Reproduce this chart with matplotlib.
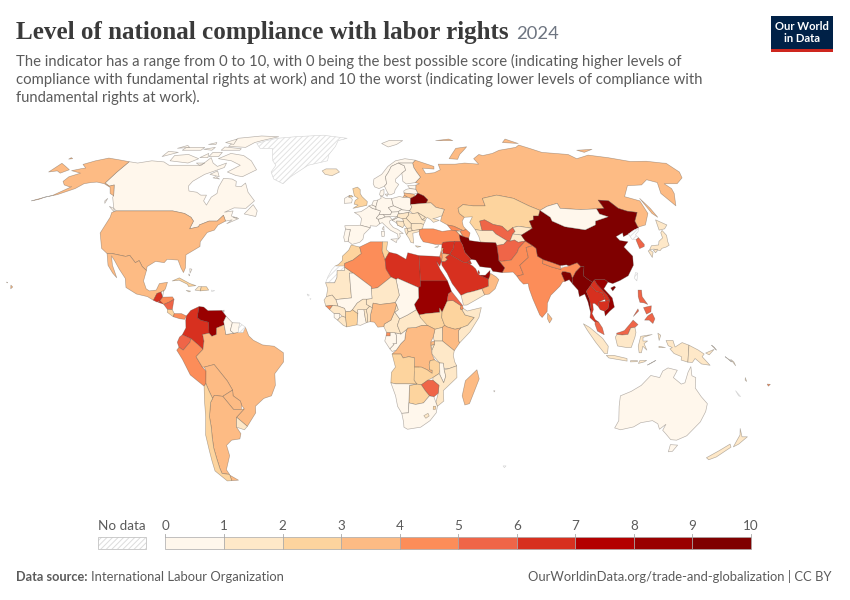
import numpy as np
import matplotlib
matplotlib.use('Agg')
import matplotlib.pyplot as plt
from matplotlib.patches import Polygon, Rectangle
from matplotlib.colors import BoundaryNorm, ListedColormap

'''
Level of national compliance with labor rights, 2024. Robinson world map drawn from rough lon/lat outlines
'''

bin_edges = [0, 1, 2, 3, 4, 5, 6, 7, 8, 9, 10]
bin_colors = ['#fff7ec', '#fee8c8', '#fdd49e', '#fdbb84', '#fc8d59',
              '#ef6548', '#d7301f', '#b30000', '#990000', '#7f0000']

# Robinson table, every 5 degrees
rob_lat = np.arange(0, 95, 5)
rob_plen = [1, .9986, .9954, .99, .9822, .973, .96, .9427, .9216, .8962, .8679, .835, .7986, .7597, .7186, .6732, .6213, .5722, .5322]
rob_pdfe = [0, .062, .124, .186, .248, .31, .372, .434, .4958, .5571, .6176, .6769, .7346, .7903, .8435, .8936, .9394, .9761, 1]

# scores, None = no data
scores = {
    'Canada': 0.5, 'USA': 3.5, 'Mexico': 3.5, 'Guatemala': 6.5, 'Belize': 0.5, 'El Salvador': 6.5, 'Honduras': 4.5,
    'Nicaragua': 5.5, 'Costa Rica': 2.5, 'Panama': 4.5, 'Cuba': 2.5, 'Haiti': 1.5, 'Dominican Rep': 2.5, 'Jamaica': 1.5,
    'Bahamas': 0.5, 'Puerto Rico': None, 'Trinidad': 0.5,
    'Colombia': 6.5, 'Venezuela': 8.5, 'Ecuador': 5.5, 'Peru': 4.5, 'Brazil': 3.5, 'Bolivia': 3.5, 'Paraguay': 3.5,
    'Argentina': 3.5, 'Chile': 2.5, 'Uruguay': 1.5, 'Guyana': 0.5, 'Suriname': 0.5, 'French Guiana': None,
    'Greenland': None, 'Iceland': 1.5, 'UK': 2.5, 'Ireland': 0.5, 'France': 0.5, 'Spain': 0.5, 'Portugal': 0.5,
    'Belgium': 0.5, 'Netherlands': 0.5, 'Germany': 0.5, 'Switzerland': 0.5, 'Austria': 0.5, 'Italy': 0.5, 'Denmark': 0.5,
    'Norway': 0.5, 'Sweden': 0.5, 'Finland': 0.5, 'Estonia': 0.5, 'Latvia': 0.5, 'Lithuania': 3.5, 'Poland': 0.5,
    'Belarus': 9.5, 'Ukraine': 1.5, 'Moldova': 1.5, 'Czechia': 0.5, 'Slovakia': 0.5, 'Hungary': 1.5, 'Romania': 1.5,
    'Bulgaria': 1.5, 'Serbia': 1.5, 'Croatia': 0.5, 'Bosnia': 1.5, 'Slovenia': 0.5, 'Albania': 1.5, 'N Macedonia': 1.5,
    'Greece': 1.5, 'Cyprus': 0.5, 'Russia': 3.5, 'Georgia': 4.5, 'Armenia': 1.5, 'Azerbaijan': 4.5, 'Turkey': 4.5,
    'Kazakhstan': 2.5, 'Uzbekistan': 5.5, 'Turkmenistan': 1.5, 'Kyrgyzstan': 1.5, 'Tajikistan': 1.5, 'Afghanistan': 5.5,
    'Pakistan': 4.5, 'Iran': 9.5, 'Iraq': 6.5, 'Syria': 6.5, 'Lebanon': 3.5, 'Israel': 4.5, 'Jordan': 3.5, 'Saudi Arabia': 6.5,
    'Yemen': 1.5, 'Oman': 3.5, 'UAE': 8.5, 'Kuwait': 6.5, 'Qatar': 6.5, 'India': 4.5, 'Nepal': 4.5, 'Bhutan': None,
    'Bangladesh': 9.5, 'Sri Lanka': 3.5, 'China': 9.5, 'Mongolia': 0.5, 'North Korea': None, 'South Korea': 5.5, 'Japan': 1.5,
    'Taiwan': None, 'Myanmar': 9.5, 'Thailand': 6.5, 'Laos': 6.5, 'Vietnam': 8.5, 'Cambodia': 6.5, 'Malaysia': 5.5,
    'Indonesia': 1.5, 'PNG': 1.5, 'Philippines': 5.5, 'Australia': 0.5, 'New Zealand': 1.5, 'Fiji': 4.5, 'Solomon': 1.5,
    'Vanuatu': 1.5, 'New Caledonia': None, 'Kerguelen': None, 'Morocco': 2.5, 'W Sahara': None, 'Mauritania': 1.5, 'Algeria': 4.5,
    'Tunisia': 2.5, 'Libya': 6.5,
    'Egypt': 6.5, 'Sudan': 8.5, 'South Sudan': 2.5, 'Ethiopia': 2.5, 'Eritrea': 5.5, 'Djibouti': 4.5, 'Somalia': 1.5,
    'Kenya': 3.5, 'Uganda': 1.5, 'Tanzania': 1.5, 'Rwanda': 3.5, 'Burundi': 1.5, 'DRC': 3.5, 'Congo': 0.5, 'Gabon': 0.5,
    'Eq Guinea': 4.5, 'Cameroon': 1.5, 'CAR': 1.5, 'Chad': 0.5, 'Niger': 1.5, 'Nigeria': 3.5, 'Mali': 0.5, 'Senegal': 1.5,
    'Guinea-Bissau': 4.5, 'Guinea': 1.5, 'Sierra Leone': 0.5, 'Liberia': 1.5, 'Ivory Coast': 2.5, 'Ghana': 0.5, 'Togo': 1.5,
    'Benin': 1.5, 'Burkina Faso': 1.5, 'Angola': 2.5, 'Zambia': 2.5, 'Malawi': 0.5, 'Mozambique': 1.5, 'Zimbabwe': 5.5,
    'Botswana': 2.5, 'Namibia': 0.5, 'South Africa': 0.5, 'Lesotho': 1.5, 'Eswatini': 2.5, 'Madagascar': 3.5,
    'Cape Verde': None, 'Mauritius': 0.5,
}

# rough outlines as (lon, lat)
outlines = {
    'Russia': [
        [(28,60.5),(31.5,62.8),(30,65),(29,67),(29,69),(31,70.3),(41,67.5),(40.5,66.3),(34,66.7),(35,64.3),(40,64.7),(44,66),(44,68.5),(54,68.5),(60,69),(68,68.5),(67,71),(72,73),(74,72.5),(81,73.5),(87,75),(100,76.5),(104,77.7),(113,74),(128,73),(130,71),(140,72.7),(150,71.5),(160,69.7),(170,69.8),(178,69),(180,68.9),(180,65),(177,62.5),(170,60),(163,60),(164,58),(162.5,56),(157,51),(155.5,56),(160,60.5),(156,61.7),(150,59.5),(142,59.2),(135,54.7),(141,53),(140,48),(135,43.5),(131,42.7),(130.7,42.3),(131,45),(135,48.4),(130.5,48.9),(127,50),(125,53),(120,53.3),(120,50),(116,49.8),(108,49.5),(98,50),(98,52),(92,50.8),(87.5,49.2),(83,51),(77,54),(71,55),(69,55.3),(61,54),(61,51),(55,51),(50,51.5),(47,50),(47,48),(49,46.5),(47.5,45),(47.5,43),(48.5,41.8),(47,41.3),(43,43),(40,43.5),(37,45),(38.2,47.1),(40,49.6),(36,50.4),(34,52.2),(31.5,52.1),(32.7,53.4),(31,55),(28.2,56.1),(27.5,57.7),(28,59.4),(30,60)],
        [(-180,68.9),(-175,67.5),(-170,66),(-172.5,64.5),(-176,65.5),(-180,65)],
        [(142,54),(143,50),(143.5,46.5),(142,48)],
        [(52,71),(57,70.7),(60,73),(68,76.8),(60,76),(55,73)],
        [(50,80),(60,81),(62,80)], [(95,79),(105,78.5),(100,81)], [(137,75),(148,75.5),(140,74)],
        [(20,54.4),(22.8,54.4),(21,55.3)], [(-180,71.5),(-178,71),(-180,70.8)],
    ],
    'Canada': [
        [(-141,69.6),(-135,69),(-128,70),(-120,69.5),(-115,68),(-108,68),(-100,68),(-96,68),(-94,71.5),(-90,69),(-86,67.5),(-82,69),(-81.5,67),(-87,65),(-90,64),(-94,61),(-94.5,59),(-92.5,57),(-88,56.5),(-85,55.3),(-82,55.3),(-82,53),(-79.5,51.3),(-79,54.5),(-77,56),(-78,58.5),(-78,62.3),(-73,62),(-70,61),(-69,59),(-66,58.8),(-64.5,60.3),(-61,56.5),(-56,53),(-59,50),(-65,50.2),(-69,48.5),(-65,49),(-65,47),(-61,46),(-66,44),(-64,45.5),(-67,45),(-69,47.3),(-71,45),(-75,45),(-79,43.5),(-79,42.8),(-83,42),(-82.5,45),(-84.5,46.5),(-88.5,48),(-95,49),(-123,49),(-125,50),(-130,54.5),(-130,55),(-135,59.5),(-137,59),(-141,60.3)],
        [(-62,66),(-68,63),(-72,63.5),(-78,65),(-73,68),(-80,70),(-89,71),(-84,73.5),(-75,72.5),(-68,70)],
        [(-117,70),(-105,69),(-101,71),(-110,73),(-118,72.5)],
        [(-62,82.5),(-75,83),(-90,81.5),(-90,77),(-78,76.5),(-75,79)],
        [(-125,72),(-118,74),(-125,74.5)], [(-80,75),(-92,75),(-92,76.7),(-80,75.8)], [(-90,81),(-95,79),(-88,78)],
        [(-117,75),(-105,75),(-105,76.5),(-117,76.5)], [(-96,72),(-90,72),(-90,74),(-96,74)],
        [(-59,47.8),(-53,46.8),(-53,49),(-56,51.5)], [(-128,50.8),(-123.5,48.5),(-125,50)], [(-87,64),(-81,63),(-84,65.5)],
        [(-101,71.5),(-96,71.5),(-98,73.5)], [(-100,69),(-95,69),(-97,68)], [(-104,75.5),(-98,75),(-98,76.5)],
        [(-105,78),(-100,78),(-101,79)], [(-122,76),(-115,76.5),(-118,77.5)], [(-84,62.5),(-80,62),(-83,63)],
        [(-64,46.5),(-62,46),(-62,46.5)], [(-132.5,53),(-131.5,52),(-132,54)],
    ],
    'USA': [
        [(-123,49),(-95,49),(-88.5,48),(-84.5,46.5),(-82.5,45),(-83,42),(-79,42.8),(-79,43.5),(-75,45),(-71,45),(-69,47.3),(-67,45),(-70,43.5),(-71,41.5),(-74,40.6),(-76,37),(-75.5,35.2),(-81,32),(-80,27),(-80.5,25.2),(-82,27),(-84,30),(-89,30.3),(-90,29),(-94,29.5),(-97.3,27.5),(-97.2,26),(-99.5,27.5),(-101.5,29.8),(-103,29),(-106.5,31.8),(-108.2,31.4),(-114.8,32.5),(-117.1,32.5),(-120.5,34.5),(-124.4,40.4),(-124,46.5),(-124.7,48.4)],
        [(-141,69.6),(-148,70.4),(-156.5,71.3),(-162,70),(-166.5,68.4),(-162,66.8),(-164,66.5),(-168,65.6),(-161,64.5),(-165,63),(-165,61),(-162,59.5),(-158,58.7),(-157,58.8),(-162,55.2),(-165,54.5),(-160,55.5),(-154,58),(-152,60),(-149,60.5),(-146,60.7),(-141,60),(-136,58.5),(-133,56),(-130,55),(-135,59.5),(-137,59),(-141,60.3)],
        [(-165,54.5),(-170,53),(-167,53.6)],
        [(-156,20.4),(-155,19.7),(-155.7,19)], [(-158.2,21.6),(-157.7,21.3),(-158,21.3)],
    ],
    'Mexico': [[(-117.1,32.5),(-114.8,32.5),(-108.2,31.4),(-106.5,31.8),(-103,29),(-101.5,29.8),(-99.5,27.5),(-97.2,26),(-97.7,22),(-96,19),(-94.5,18.2),(-91.5,18.5),(-90.5,21),(-87,21.5),(-87.5,19),(-88.2,18),(-89,17.8),(-91,17.2),(-92.2,14.6),(-95,16),(-100,17),(-105,19.5),(-106,23),(-109.5,26.5),(-112.8,30),(-114.7,31.6),(-113,28),(-109.8,23.2),(-112,25),(-115,28)]],
    'Guatemala': [[(-92.2,14.6),(-91,17.2),(-89.2,17.8),(-88.3,15.8),(-89.3,14.4),(-90.5,13.9)]],
    'Belize': [[(-89.2,17.8),(-88.2,18.4),(-88.3,16)]],
    'El Salvador': [[(-90,13.8),(-89.3,14.4),(-87.8,13.9),(-87.8,13.2)]],
    'Honduras': [[(-89.3,14.4),(-88.3,15.8),(-84,15.9),(-83.2,15),(-85,14),(-87.5,13)]],
    'Nicaragua': [[(-87.5,13),(-85,14),(-83.2,15),(-83.6,11),(-85.7,11.1)]],
    'Costa Rica': [[(-85.7,11.1),(-83.6,11),(-82.6,9.5),(-83,8.3),(-85.7,10)]],
    'Panama': [[(-83,8.3),(-82.6,9.5),(-79.5,9.5),(-77.3,8.6),(-78,7.3),(-80,7.5)]],
    'Cuba': [[(-85,22),(-82,23.2),(-77,21),(-74.2,20.2),(-77.5,19.9),(-78,20.7),(-82,22.3)]],
    'Haiti': [[(-74.4,18.5),(-72,18.2),(-71.8,19.8),(-73,19.9)]],
    'Dominican Rep': [[(-71.8,19.8),(-72,18.2),(-68.4,18.5),(-69.5,19.8)]],
    'Jamaica': [[(-78.3,18.4),(-76.3,18.1),(-77,17.8)]],
    'Bahamas': [[(-78,26.7),(-77,26.5),(-77.5,25)], [(-78,24.7),(-77.5,24),(-77.8,24)]],
    'Puerto Rico': [[(-67.2,18.5),(-65.7,18.3),(-67,17.9)]],
    'Trinidad': [[(-61.7,10.7),(-61,10.8),(-61,10.1)]],
    'Colombia': [[(-77.3,8.6),(-75.5,10.7),(-72,12.2),(-72.5,8),(-71,7),(-67.5,6.2),(-67.2,2),(-70,1.5),(-69.4,-1),(-69.9,-4.2),(-72,-2.4),(-75,-0.1),(-78.8,1.4),(-77.3,4),(-77.5,7)]],
    'Venezuela': [[(-72,12.2),(-70,12),(-68,10.6),(-62,10.7),(-60,8.5),(-61,6.5),(-60.7,5.2),(-64,4),(-64,1.5),(-66,0.8),(-67.2,2),(-67.5,6.2),(-71,7),(-72.5,8)]],
    'Ecuador': [[(-78.8,1.4),(-75,-0.1),(-75.5,-1.5),(-78.5,-4.5),(-80.3,-3.4),(-81,-1.5),(-80,0.5)]],
    'Peru': [[(-81.3,-4.5),(-80.3,-3.4),(-78.5,-4.5),(-75.5,-1.5),(-75,-0.1),(-72,-2.4),(-69.9,-4.2),(-73,-7),(-70.5,-11),(-69,-12.5),(-69.5,-17.3),(-70.4,-18.3),(-76,-14),(-79,-8)]],
    'Brazil': [[(-69.9,-4.2),(-69.4,-1),(-70,1.5),(-67.2,2),(-66,0.8),(-64,1.5),(-64,4),(-60.7,5.2),(-59.9,1.5),(-56.5,2),(-54.6,2.3),(-52.5,2.3),(-51.5,4.3),(-50,1),(-48,-0.7),(-44,-2.5),(-39,-3),(-35,-5.5),(-35,-9),(-39,-13.5),(-39,-18),(-41,-22),(-44.5,-23),(-48.5,-26),(-48.7,-28.5),(-53.4,-33.7),(-57.6,-30.2),(-53.7,-27),(-54.6,-25.6),(-55,-24),(-58,-22),(-58,-19.8),(-60,-16.3),(-65.3,-10),(-69.6,-11),(-70.5,-11),(-73,-7)]],
    'Bolivia': [[(-69,-12.5),(-69.6,-11),(-65.3,-10),(-60,-16.3),(-58,-19.8),(-62.6,-22.2),(-66.3,-21.8),(-67.2,-23),(-68.5,-20),(-69.5,-17.3)]],
    'Paraguay': [[(-58,-19.8),(-58,-22),(-55,-24),(-54.6,-25.6),(-55,-27.2),(-58.5,-27.2),(-62.6,-22.2)]],
    'Argentina': [
        [(-66.3,-21.8),(-62.6,-22.2),(-58.5,-27.2),(-55,-27.2),(-53.7,-27),(-57.6,-30.2),(-58.4,-34),(-57,-36.5),(-58,-38.5),(-62,-39),(-65,-41),(-65,-45),(-69,-50.5),(-68.4,-52.4),(-72,-52),(-72,-50),(-71.5,-42),(-70,-34),(-69.8,-30),(-68.3,-24.5),(-67.2,-23)],
        [(-68.6,-52.6),(-65,-54.7),(-68.6,-54.9)],
    ],
    'Chile': [[(-69.5,-17.3),(-68.5,-20),(-67.2,-23),(-68.3,-24.5),(-69.8,-30),(-70,-34),(-71.5,-42),(-72,-50),(-72,-52),(-68.4,-52.4),(-68.6,-54.9),(-71,-55),(-75,-51),(-74,-43),(-73.5,-37),(-71.5,-30),(-70.4,-18.3)]],
    'Uruguay': [[(-58.4,-34),(-57.6,-30.2),(-53.4,-33.7),(-55,-35)]],
    'Guyana': [[(-60,8.5),(-57.2,6),(-58,3),(-56.5,2),(-59.9,1.5),(-60.7,5.2),(-61,6.5)]],
    'Suriname': [[(-57.2,6),(-54,5.9),(-54.6,2.3),(-56.5,2),(-58,3)]],
    'French Guiana': [[(-54,5.9),(-51.5,4.3),(-52.5,2.3),(-54.6,2.3)]],
    'Greenland': [[(-73,78.5),(-68,76),(-60,76),(-55,70),(-52,68),(-53,65),(-50,62),(-44,60),(-41,63),(-33,68),(-22,70),(-22,73),(-19,77),(-18,80),(-12,81.5),(-30,83.5),(-50,82.5),(-62,81.5),(-68,80)]],
    'Iceland': [[(-24,65.5),(-22,64),(-18,63.4),(-14,65),(-16,66.4),(-22,66.4)]],
    'UK': [
        [(-5.5,50),(1.4,51.2),(1.7,52.7),(-1,54.7),(-2,56),(-2,57.6),(-3.5,58.6),(-6,58),(-5,55),(-3,54),(-4.5,53.2),(-5,51.7),(-3,51.3)],
        [(-8,54.5),(-5.6,54.6),(-6.5,55.2),(-7.5,55.2)],
    ],
    'Ireland': [[(-10,52),(-6.3,52.2),(-6,53.5),(-6.5,54.1),(-8,54.5),(-7.5,55.2),(-10,54)]],
    'France': [[(-4.8,48.4),(-1.5,48.7),(1.5,50.2),(2.5,51),(4.2,50),(6,49.6),(8.2,49),(7.5,47.6),(6,46.2),(6.9,45.7),(7.6,44),(6,43),(3,43.2),(3,42.4),(-1.7,43.4),(-1.2,46),(-2.5,47.3)], [(8.6,42),(9.5,41.4),(9.5,43)]],
    'Spain': [[(-9.2,43.2),(-1.7,43.4),(3,42.4),(0,40),(-0.5,38),(-2,36.8),(-5.5,36),(-7.4,37.2),(-7,39.5),(-6.5,41.7),(-8.8,41.9)]],
    'Portugal': [[(-8.8,41.9),(-6.5,41.7),(-7,39.5),(-7.4,37.2),(-8.9,37),(-9.5,38.8)]],
    'Belgium': [[(2.5,51),(4,51.4),(6,50.7),(6,49.6),(4.2,50)]],
    'Netherlands': [[(4,51.4),(4.8,53),(7,53.3),(6,50.7)]],
    'Germany': [[(6,50.7),(7,53.3),(8.8,54),(8.7,55),(11,54),(14.2,53.9),(14.8,51),(12.2,50.3),(13.8,48.6),(13,47.5),(9.6,47.5),(7.5,47.6),(8.2,49),(6,49.6)]],
    'Switzerland': [[(6,46.2),(7.5,47.6),(9.6,47.5),(10.4,46.6),(8.5,46),(6.9,45.7)]],
    'Austria': [[(9.6,47.5),(13,47.5),(13.8,48.6),(17,48.7),(17,48),(16.2,46.8),(12.5,46.7),(10.4,46.6)]],
    'Italy': [[(7.6,44),(6.9,45.7),(8.5,46),(10.4,46.6),(12.5,46.7),(13.7,45.6),(12.3,45),(12.5,44),(14,42.5),(16,41.8),(18.5,40.2),(16.8,40.2),(17,39),(16,38),(15.8,40),(12.5,41.5),(10.5,43),(8.8,44.4)], [(12.5,38),(15.6,38.2),(15,36.7)], [(8.2,41),(9.7,41),(9.5,39.1),(8.4,39)]],
    'Denmark': [[(8.1,55.5),(8.7,57.1),(10.6,57.7),(10.5,56),(9.8,55),(8.7,55)], [(11,55.7),(12.6,55.8),(12,54.8)]],
    'Norway': [[(5,60),(5.5,62),(10,64),(14,67.5),(19,70),(25,71),(31,70.3),(29,69),(25,69),(20.5,69),(16,67.5),(14,65),(12,63),(12.3,60),(11,59),(8,58),(5.7,58.7)], [(12,78.5),(16,76.7),(22,78),(27,80),(18,80.2)]],
    'Sweden': [[(11,59),(12.3,60),(12,63),(14,65),(16,67.5),(20.5,69),(23.7,67.8),(24,65.8),(21.5,64.5),(17.5,62),(17.3,60.7),(18.8,59.7),(16.5,57.5),(16,56.2),(14.2,55.5),(13,55.4),(12,57)]],
    'Finland': [[(20.5,69),(25,69),(29,69),(29,67),(30,65),(31.5,62.8),(28,60.5),(23,59.9),(21.3,61),(21.5,64.5),(24,65.8),(23.7,67.8)]],
    'Estonia': [[(23.5,59.2),(28,59.4),(27.5,57.7),(24.4,58)]],
    'Latvia': [[(21,57),(22.5,57.7),(24.4,58),(27.5,57.7),(28.2,56.1),(26,55.7),(21,56.2)]],
    'Lithuania': [[(21,56.2),(26,55.7),(26.7,55),(24,54),(22.8,54.4),(21,55.3)]],
    'Poland': [[(14.2,53.9),(18.5,54.8),(20,54.4),(22.8,54.4),(24,54),(23.5,51.6),(24,50.5),(22.7,49.1),(19,49.4),(18.8,49.6),(14.8,51)]],
    'Belarus': [[(24,54),(26.7,55),(28.2,56.1),(31,55),(32.7,53.4),(31.5,52.1),(23.5,51.6)]],
    'Ukraine': [[(23.5,51.6),(31.5,52.1),(34,52.2),(36,50.4),(40,49.6),(38.2,47.1),(35,46.2),(33.5,46),(36.5,45.3),(33.5,44.5),(32.5,45.5),(30.8,46.5),(29.7,45.3),(28.2,45.5),(30,46.5),(26.6,48.3),(24,47.9),(22.7,49.1),(24,50.5)]],
    'Moldova': [[(26.6,48.3),(30,46.5),(28.2,45.5)]],
    'Czechia': [[(12.2,50.3),(14.8,51),(18.8,49.6),(17,48.7),(13.8,48.6)]],
    'Slovakia': [[(17,48.7),(18.8,49.6),(19,49.4),(22.7,49.1),(22.1,48.4),(17.5,47.8)]],
    'Hungary': [[(16.2,46.8),(17,48),(17.5,47.8),(22.1,48.4),(22,47.4),(20.5,46.1),(18.5,45.8),(16.6,46.5)]],
    'Romania': [[(22,47.4),(22.1,48.4),(24,47.9),(26.6,48.3),(28.2,45.5),(29.7,45.1),(28.6,43.7),(27,44.1),(22.7,44),(20.5,46.1)]],
    'Bulgaria': [[(22.7,44),(27,44.1),(28.6,43.7),(27.8,42),(26.3,41.7),(22.9,41.3),(22.4,42.3)]],
    'Serbia': [[(18.8,45.9),(20.5,46.1),(22.7,44),(22.4,42.3),(20.5,42.2),(19.3,43.5),(19,44.9)]],
    'Croatia': [[(13.7,45.3),(16.6,46.5),(18.8,45.9),(19,44.9),(15.8,45),(16,43.5),(18.5,42.5),(14.9,44.7)]],
    'Bosnia': [[(15.8,45),(19,44.9),(19.3,43.5),(18.5,42.5),(16,43.5)]],
    'Slovenia': [[(13.7,45.6),(16.2,46.8),(16.6,46.5),(13.7,45.3)]],
    'Albania': [[(19.4,42.2),(20.5,42.2),(20.9,40.8),(20,39.7),(19.4,41)]],
    'N Macedonia': [[(20.5,42.2),(22.4,42.3),(22.9,41.3),(20.9,40.8)]],
    'Greece': [[(20,39.7),(20.9,40.8),(22.9,41.3),(26.3,41.7),(26,40.9),(23,40.3),(23,38),(23,36.5),(21.7,36.8),(21,38.3)], [(23.6,35.5),(26.2,35.2),(24.5,34.9)]],
    'Cyprus': [[(32.5,34.8),(34.5,35.6),(33.8,34.9)]],
    'Georgia': [[(40,43.5),(43,43),(46.5,41.5),(43.5,41.2),(41.5,41.5)]],
    'Armenia': [[(43.5,41.2),(45.5,41),(46.5,39),(44.8,39.7)]],
    'Azerbaijan': [[(46.5,41.5),(47,41.3),(48.5,41.8),(50,40.4),(48.9,38.4),(46.5,39),(45.5,41)]],
    'Turkey': [[(26,40),(26.3,41.7),(28,42),(33,42),(37,41),(41.5,41.5),(43.5,41.2),(44.8,39.7),(44.8,37.2),(42,37.2),(36.7,36.8),(36,36),(33,36),(30.5,36.5),(27.5,37),(26.5,38.5)]],
    'Kazakhstan': [[(50,51.5),(55,51),(61,51),(61,54),(69,55.3),(71,55),(77,54),(83,51),(87.5,49.2),(85.5,47),(83,47),(82.3,45.5),(80,45),(80.2,42.2),(74,43),(71,42.5),(68,41),(66,43),(62,43.7),(58.5,45.5),(56,45),(56,41.3),(52.8,41.7),(51,44.5),(53,46.7),(49,46.5),(47,48),(47,50)]],
    'Uzbekistan': [[(56,45),(58.5,45.5),(62,43.7),(66,43),(68,41),(71,42.5),(71.5,41),(70,40),(67.8,37.2),(66.5,37.4),(62,40),(61,41.3),(56,41.3)]],
    'Turkmenistan': [[(52.8,41.7),(56,41.3),(61,41.3),(62,40),(66.5,37.4),(64.5,36),(61.2,35.6),(61,36.6),(54,36.9),(53.8,39)]],
    'Kyrgyzstan': [[(71,42.5),(74,43),(80.2,42.2),(74,39.6),(70,40),(71.5,41)]],
    'Tajikistan': [[(67.8,37.2),(70,40),(74,39.6),(75,37.3),(71.5,36.8),(70,37.7)]],
    'Afghanistan': [[(61.2,35.6),(64.5,36),(66.5,37.4),(67.8,37.2),(70,37.7),(71.5,36.8),(75,37.3),(71,34.5),(70,33),(66.5,30),(62,29.5),(60.8,29.8),(61,31.5)]],
    'Pakistan': [[(61.6,25.2),(66.5,25.4),(68,23.8),(71,24.5),(70,28),(74.5,31),(74.5,34.8),(77.8,35.5),(75,37.3),(71,34.5),(70,33),(66.5,30),(62,29.5),(60.8,29.8),(63,27)]],
    'Iran': [[(44.8,39.7),(46.5,39),(48.9,38.4),(49,37.5),(54,36.9),(61,36.6),(61.2,35.6),(61,31.5),(60.8,29.8),(63,27),(61.6,25.2),(57.5,25.7),(56.8,27),(52,27.5),(50.5,30),(48.5,30.3),(46,33),(45.5,35.8),(44.8,37.2)]],
    'Iraq': [[(42,37.2),(44.8,37.2),(45.5,35.8),(46,33),(48.5,30.3),(47.8,30),(46.5,29.1),(44.7,29.2),(39,32.2),(41,34.5)]],
    'Syria': [[(36,36),(36.7,36.8),(42,37.2),(41,34.5),(39,32.2),(36,32.5),(36,33.6),(36.4,34.6),(35.7,34.6)]],
    'Lebanon': [[(35.1,33.1),(36,33.6),(36.4,34.6),(35.7,34.6)]],
    'Israel': [[(34.3,31.3),(35.1,33.1),(35.6,33),(35.5,31),(34.95,29.5)]],
    'Jordan': [[(35.5,31),(35.6,32.6),(36,32.5),(39,32.2),(37,31),(37.8,30.3),(36.5,29.4),(34.95,29.5)]],
    'Saudi Arabia': [[(34.9,29.4),(36.5,29.4),(37.8,30.3),(37,31),(39,32.2),(44.7,29.2),(46.5,29.1),(47.5,28.5),(48.8,27.7),(50,26.6),(50.8,24.7),(51.6,24.2),(55.2,22.7),(55,20),(52,19),(48,18),(45,17.4),(43.2,16.7),(42.6,16.5),(39,21),(37,25),(35,28)]],
    'Yemen': [[(42.6,16.5),(43.2,16.7),(45,17.4),(48,18),(52,19),(53,16.7),(45,12.8),(43.5,12.7)]],
    'Oman': [[(52,19),(55,20),(55.2,22.7),(56,24.2),(56.4,24.9),(58.7,23.6),(59.8,22.5),(57.8,19),(55,17),(53,16.7)]],
    'UAE': [[(51.6,24.2),(54,24.2),(56.3,26),(56,24.2),(55.2,22.7)]],
    'Kuwait': [[(46.5,29.1),(47.8,30),(48.4,28.6),(47.5,28.5)]],
    'Qatar': [[(51,24.6),(51.6,25),(51.2,26.1),(50.8,25.5)]],
    'India': [[(68,23.8),(69,22.3),(70.5,20.8),(72.6,21),(72.8,19),(74,15),(76.5,9),(77.5,8),(79.8,10.3),(80.2,13.5),(82,16.5),(86.5,20),(88,21.7),(89,21.8),(88,24.8),(88.5,25.5),(89.8,25.5),(92,25),(92.5,23),(93.3,24),(94.5,25.5),(97.3,27.5),(96,29),(92,27.8),(88.8,27.2),(88,26.4),(84,27.4),(80.3,28.7),(81,30.2),(78.8,31.5),(79,34.5),(77.8,35.5),(74.5,34.8),(74.5,31),(70,28),(71,24.5)]],
    'Nepal': [[(80.3,28.7),(84,27.4),(88,26.4),(88.2,27.9),(85,29),(81,30.2)]],
    'Bhutan': [[(88.8,27.2),(92,27.8),(91,28.2),(89,28)]],
    'Bangladesh': [[(88,24.8),(88.5,25.5),(89.8,25.5),(92,25),(92.5,23),(92.3,20.8),(91,22.5),(89,21.8)]],
    'Sri Lanka': [[(80,9.7),(81.8,7.5),(80.6,5.9),(79.8,7.5)]],
    'China': [[(73.8,39.5),(74,39.6),(80.2,42.2),(80,45),(82.3,45.5),(83,47),(85.5,47),(87.5,49.2),(91,46.5),(91,45),(96,42.8),(105,41.6),(111,43.5),(112,45),(119.5,46.7),(116,47.8),(116,49.8),(120,50),(120,53.3),(125,53),(127,50),(130.5,48.9),(135,48.4),(131,45),(130.7,42.3),(128,41.5),(124.4,40),(121.5,39),(122,40.5),(118,39),(119,37.5),(122.5,37),(119.5,35),(122,31.5),(121,28),(117.5,24),(113.5,22.2),(110,21),(108,21.6),(106.7,22.6),(103,22.6),(102.2,22.4),(101.2,21.5),(99.5,22.5),(97.5,24),(98.7,27.5),(97.3,27.5),(96,29),(92,27.8),(91,28.2),(89,28),(88.2,27.9),(85,29),(81,30.2),(78.8,31.5),(79,34.5),(77.8,35.5),(75,37.3)], [(108.8,19.3),(110.5,20),(111,19.6),(109.5,18.2)]],
    'Mongolia': [[(87.5,49.2),(92,50.8),(98,52),(98,50),(108,49.5),(116,49.8),(116,47.8),(119.5,46.7),(112,45),(111,43.5),(105,41.6),(96,42.8),(91,45),(91,46.5)]],
    'North Korea': [[(124.4,40),(128,41.5),(130.7,42.3),(129.7,41),(127.5,39.7),(128.3,38.6),(126.7,37.8),(125,38)]],
    'South Korea': [[(126.7,37.8),(128.3,38.6),(129.5,36),(129,35.2),(126.5,34.4),(126.6,37)]],
    'Japan': [[(130.9,34),(132.5,35.5),(136,35.8),(137,37.2),(139.5,38.5),(140,40.5),(141.3,41.4),(142,39.5),(141,37),(140.8,35.7),(139,35),(136.8,34.5),(135.5,33.6),(133,34.2)], [(140,41.5),(141.5,45.5),(145.3,43.5),(143,42)], [(130,33.5),(131,33.9),(132,33),(130.7,31)], [(132.5,33.8),(134.5,34.2),(134,33.4),(133,32.8)]],
    'Taiwan': [[(120.1,23),(121,25.2),(122,25),(120.9,22)]],
    'Myanmar': [[(92.3,20.8),(92.5,23),(93.3,24),(94.5,25.5),(97.3,27.5),(98.7,27.5),(97.5,24),(99.5,22.5),(101.2,21.5),(100.1,20.3),(97.8,18),(98.8,15),(99,11),(98.7,10),(98,14),(97,17),(94.5,16),(94.3,18.5)]],
    'Thailand': [[(100.1,20.3),(102.2,18),(104.8,17.5),(105.6,15),(102.8,14),(102.3,12.2),(100.9,13.4),(100,13.4),(100,11),(99.3,9.5),(100.5,7.2),(102,6.2),(101,5.7),(98.3,8),(99,11),(98.8,15),(97.8,18)]],
    'Laos': [[(101.2,21.5),(102.2,22.4),(103,20.7),(104.7,18.8),(106.7,16.7),(107.5,15),(107.5,14.7),(105.6,14.2),(105.6,15),(104.8,17.5),(102.2,18),(100.1,20.3)]],
    'Vietnam': [[(103,22.6),(106.7,22.6),(108,21.6),(105.7,19),(108.8,15.5),(109.3,12),(107,10.4),(105,8.6),(104.8,10.4),(106.5,11.5),(107.5,14.7),(107.5,15),(106.7,16.7),(104.7,18.8),(103,20.7),(102.2,22.4)]],
    'Cambodia': [[(102.3,12.2),(102.8,14),(105.6,14.2),(107.5,14.7),(106.5,11.5),(104.8,10.4),(103,11)]],
    'Malaysia': [[(100.5,6.5),(102,6.2),(103.5,4),(104.2,1.4),(101.3,2.8),(100.3,5.5)], [(109.6,2),(111.4,2.5),(113,3),(115.5,5.5),(117,7),(119,5.3),(117.6,4.2),(115.8,4),(114.5,1.5),(112,1.3),(109.7,1.5)]],
    'Indonesia': [
        [(109,0.5),(109.7,1.5),(112,1.3),(114.5,1.5),(115.8,4),(117.6,4.2),(118,2.3),(117.5,0.5),(116,-3.5),(114,-3.5),(110,-2.9)],
        [(95.3,5.6),(98,4.2),(103.5,0),(106,-3),(105.8,-5.8),(104.5,-5.8),(100.5,-1.5),(97,3)],
        [(105.3,-6.5),(108.5,-6.5),(114.4,-7.7),(114.5,-8.7),(106.5,-7.5)],
        [(119.5,-5.5),(119,-3),(120,0.8),(125,1.5),(121,0.4),(121,-1),(123,-1),(121.5,-2),(122.8,-4.5),(121,-3),(120.5,-5.5)],
        [(116,-8.5),(119,-8.5),(119,-8.9),(116,-9)], [(120,-8.5),(123,-8.4),(122,-9),(119.5,-9.6)], [(123.5,-10.2),(127,-8.4),(125,-9.5)],
        [(131,-0.8),(134,-0.8),(135,-3.3),(138,-1.6),(141,-2.6),(141,-9.1),(138,-8.3),(138,-7),(134.7,-5.8),(132.8,-4),(133.8,-3.5),(132,-2.8)],
        [(127.5,2),(128.7,1.2),(128,-0.8)], [(128,-3),(130.8,-3.5),(128,-3.5)],
    ],
    'PNG': [[(141,-2.6),(145,-4.4),(147.8,-6),(147,-7),(150.8,-10.3),(147,-9.8),(144,-7.7),(143,-9.2),(141,-9.1)], [(148.4,-5.6),(152,-4.2),(150,-6.3)], [(150.8,-2.6),(153,-4.5),(152,-3.4)]],
    'Solomon': [[(157,-7),(160,-9),(159,-8.2)], [(159.5,-8),(162,-10.5),(161,-9)]],
    'Vanuatu': [[(167,-15),(168,-16.5),(167.2,-16)]],
    'Philippines': [[(120.3,16),(120.7,18.5),(122.2,18.5),(122,16),(124,13),(122.5,13.6),(120.7,13.8)], [(122,7),(123.5,8.6),(125.5,9.7),(126.5,7.5),(125.5,5.7),(124,7)], [(122,11.8),(125.5,12.5),(125,10.2),(123,9.3)], [(117.2,8.4),(119.5,11.3),(119.7,10.5)]],
    'Australia': [[(113.6,-22),(114,-26),(115.7,-31.5),(115,-34.3),(118,-35),(123.5,-33.9),(126,-32.3),(131,-31.5),(134,-32.7),(135.8,-34.8),(137.8,-32.9),(137.5,-35.2),(139.7,-36.5),(143.5,-38.8),(146.4,-39),(150,-37.3),(153,-32),(153.5,-28),(153,-25),(149.5,-22.3),(146,-19),(145.3,-15),(143.5,-14.3),(142.5,-10.8),(141.6,-13),(141,-17),(139.5,-17.5),(135.5,-15),(136.8,-12.2),(132.6,-11.3),(130.5,-12.5),(129.5,-15),(125.5,-14.2),(122,-18),(118,-20.3)], [(144.7,-40.7),(148.3,-40.9),(147.8,-43.3),(146,-43.5)]],
    'New Zealand': [[(172.7,-34.5),(176,-37.7),(178.5,-37.7),(176.8,-40.5),(175.3,-41.6),(174.7,-39),(174.5,-37)], [(172.7,-40.5),(174.3,-41.7),(171,-45.5),(168.5,-46.6),(166.5,-45.8),(170,-43)]],
    'Fiji': [[(177.3,-17.5),(178.7,-17.6),(178,-18.3)]],
    'New Caledonia': [[(164,-20),(167,-22.3),(166,-22)]],
    'Kerguelen': [[(69,-49),(70.5,-49),(70,-49.7)]],
    'Morocco': [[(-5.9,35.8),(-2,35),(-1.2,32.5),(-5,30),(-8.7,28.7),(-8.7,27.7),(-13,27.7),(-11.5,28.3),(-9.8,29.8),(-9.8,31.5),(-7,33.8)]],
    'W Sahara': [[(-13,27.7),(-8.7,27.7),(-8.7,26),(-12,26),(-12,23.4),(-13,21.3),(-17,21.3),(-16,23.7),(-14.5,26.2)]],
    'Mauritania': [[(-17,21.3),(-13,21.3),(-12,23.4),(-12,26),(-8.7,26),(-8.7,27.3),(-4.8,25),(-6.5,25),(-5.5,15.5),(-11,15),(-12.3,14.8),(-14,16.6),(-16.5,16),(-16,19)]],
    'Algeria': [[(-2,35),(3,37),(8.6,37),(8.3,33.5),(9.5,30.2),(9.9,26.5),(12,23.5),(6,19.4),(3.2,19),(3.2,19.8),(-4.8,25),(-8.7,27.3),(-8.7,28.7),(-5,30),(-1.2,32.5)]],
    'Tunisia': [[(8.6,37),(11,37),(10.3,34),(11.5,33),(9.5,30.2),(8.3,33.5)]],
    'Libya': [[(9.5,30.2),(11.5,33),(15,32.3),(19,30.3),(20,32.8),(25,31.7),(25,20),(24,19.5),(15,23),(14.2,22.6),(12,23.5),(9.9,26.5)]],
    'Egypt': [[(25,31.7),(31,31.5),(34.3,31.3),(34.9,29.5),(34,27.7),(32.7,29.5),(34,26.5),(37,22),(25,22)]],
    'Sudan': [[(24,19.5),(25,20),(25,22),(37,22),(38.5,18),(37,17),(36.4,14.3),(34,10),(33,11.7),(33,10),(27,9.5),(24,9),(22.8,11),(22,13),(24,15.5)]],
    'South Sudan': [[(24,9),(27,9.5),(33,10),(33,11.7),(34,10),(33.8,8),(35,5),(34,4.2),(30.8,3.5),(27.5,5),(25,5),(24.5,8)]],
    'Ethiopia': [[(36.4,14.3),(37,14.4),(39,14.5),(42.4,12.5),(42,11.3),(42.8,10.9),(44,9),(48,8),(45,5),(42,4),(39.5,3.5),(36,4.4),(35,5),(33.8,8),(34,10)]],
    'Eritrea': [[(36.4,14.3),(37,17),(38.5,18),(43,12.7),(42.4,12.5),(39,14.5),(37,14.4)]],
    'Djibouti': [[(42.4,12.5),(43,12.7),(43.3,11.5),(42.8,10.9),(42,11.3)]],
    'Somalia': [[(43.3,11.5),(45,10.5),(51.2,11.8),(50,8),(46,2.5),(41.5,-1.7),(41,-1),(41,3),(42,4),(45,5),(48,8),(44,9),(42.8,10.9)]],
    'Kenya': [[(34,4.2),(35,5),(36,4.4),(39.5,3.5),(42,4),(41,3),(41,-1),(41.5,-1.7),(39.2,-4.7),(34,-1),(34,1)]],
    'Uganda': [[(30.8,3.5),(34,4.2),(34,1),(34,-1),(30.5,-1),(30,0.5)]],
    'Tanzania': [[(34,-1),(39.2,-4.7),(38.8,-6.5),(39.5,-9),(40.4,-10.5),(37,-11.6),(34.9,-11.5),(34.5,-9.5),(32.9,-9.4),(29.5,-6),(29.5,-4.4),(30.5,-2.4),(30.5,-1)]],
    'Rwanda': [[(29,-1.4),(30.5,-1),(30.5,-2.4),(29,-2.7)]],
    'Burundi': [[(29,-2.7),(30.5,-2.4),(29.5,-4.4)]],
    'DRC': [[(12.2,-6),(14,-4.5),(16,-2),(17.7,-0.5),(18,2),(18.6,3.5),(19,4),(22.5,4.2),(25,5),(27.5,5),(30.8,3.5),(30,0.5),(29,-1.4),(29,-2.7),(29.5,-6),(30.7,-8.2),(28.8,-8.5),(28.4,-10),(28.7,-12),(29.8,-12.2),(29.8,-13.4),(27.5,-12),(25,-11),(22,-11),(22,-7.5),(19.5,-7),(17,-7.5),(16,-6)]],
    'Congo': [[(11.2,-4),(13,-2.3),(12.5,-2),(14,-2),(14,1.3),(13.3,2.2),(16,1.7),(18.6,3.5),(18,2),(17.7,-0.5),(16,-2),(14,-4.5),(12.2,-5)]],
    'Gabon': [[(9,-1),(9.6,1),(11.3,1),(11.3,2.3),(13.3,2.2),(14,1.3),(14,-2),(12.5,-2),(13,-2.3),(11.2,-4)]],
    'Eq Guinea': [[(9.6,1),(11.3,1),(11.3,2.3),(9.8,2.3)]],
    'Cameroon': [[(8.6,4.5),(9.8,2.3),(13.3,2.2),(16,1.7),(14.5,5),(15.5,7.5),(13.5,10),(15,11),(14.2,13),(13.2,10),(11.7,7),(8.8,5.5)]],
    'CAR': [[(14.5,5),(16,1.7),(18.6,3.5),(19,4),(22.5,4.2),(25,5),(27.5,5),(24.5,8),(24,9),(22.8,11),(19,9),(15.5,7.5)]],
    'Chad': [[(15,23),(24,19.5),(24,15.5),(22,13),(22.8,11),(19,9),(15.5,7.5),(13.5,10),(15,11),(14.2,13),(13.6,13.7),(15.5,16.5),(14.2,22.6)]],
    'Niger': [[(3.2,19),(6,19.4),(12,23.5),(14.2,22.6),(15.5,16.5),(13.6,13.7),(10,13.3),(7,13),(4,13.5),(3.6,11.7),(2.4,12.3),(1,13),(1,15),(3.5,15.3)]],
    'Nigeria': [[(2.7,6.4),(4.5,6.2),(6,4.3),(8.6,4.5),(8.8,5.5),(11.7,7),(13.2,10),(14.2,13),(13.6,13.7),(10,13.3),(7,13),(4,13.5),(3.6,11.7),(2.8,9)]],
    'Mali': [[(-12.3,14.8),(-11,15),(-5.5,15.5),(-6.5,25),(-4.8,25),(3.2,19.8),(3.2,19),(3.5,15.3),(1,15),(-0.5,15),(-3,13.5),(-5,11),(-6,10.3),(-8,10.2),(-8.5,11.5),(-11.4,12.4)]],
    'Senegal': [[(-17.5,14.7),(-16.5,16),(-14,16.6),(-12.3,14.8),(-11.4,12.4),(-13.7,12.6),(-16.7,12.4)]],
    'Guinea-Bissau': [[(-16.7,12.4),(-13.7,12.6),(-15,11)]],
    'Guinea': [[(-15,11),(-13.7,12.6),(-11.4,12.4),(-8.5,11.5),(-8,10.2),(-8,8),(-9.5,8.5),(-10.7,9.5),(-13,9.5)]],
    'Sierra Leone': [[(-13,9.5),(-10.7,9.5),(-10.5,8),(-11.5,7),(-13,8)]],
    'Liberia': [[(-11.5,7),(-10.5,8),(-9.5,8.5),(-8,8),(-7.5,4.4),(-9,5)]],
    'Ivory Coast': [[(-8,8),(-8,10.2),(-6,10.3),(-5,11),(-2.7,9.5),(-3,5.2),(-7.5,4.4)]],
    'Ghana': [[(-3,5.2),(-2.7,9.5),(-2.8,11),(0,11),(0.5,8),(1,6),(-1.5,5)]],
    'Togo': [[(0,11),(1,11),(1.5,9),(1.6,6.2),(1,6),(0.5,8)]],
    'Benin': [[(1,11),(2.4,12.3),(3.6,11.7),(2.8,9),(2.7,6.4),(1.6,6.2),(1.5,9)]],
    'Burkina Faso': [[(-5,11),(-3,13.5),(-0.5,15),(1,15),(1,13),(2.4,12.3),(1,11),(-2.8,11),(-2.7,9.5)]],
    'Angola': [[(11.8,-17),(12,-13),(13.7,-11),(12.2,-6),(16,-6),(17,-7.5),(19.5,-7),(22,-7.5),(22,-11),(24,-11),(22,-13),(22,-16),(23.3,-17.5),(18.5,-17.4),(13.9,-17.4)]],
    'Zambia': [[(22,-11),(25,-11),(27.5,-12),(29.8,-13.4),(29.8,-12.2),(28.7,-12),(28.4,-10),(28.8,-8.5),(30.7,-8.2),(32.9,-9.4),(33.7,-10.5),(32.8,-13.5),(30.2,-15),(28,-16),(25.2,-17.8),(23.3,-17.5),(22,-16),(22,-13)]],
    'Malawi': [[(32.9,-9.4),(34.5,-9.5),(35,-12),(35.8,-14.5),(35,-17),(33.2,-14)]],
    'Mozambique': [[(40.4,-10.5),(40.7,-15),(35,-20),(35.5,-24),(32.8,-26),(32,-24.5),(32.8,-21),(33,-18),(30.2,-16),(30.2,-15),(32.8,-13.5),(33.2,-14),(35,-17),(35.8,-14.5),(35,-12),(37,-11.6)]],
    'Zimbabwe': [[(25.2,-17.8),(28,-16),(30.2,-16),(33,-18),(32.8,-21),(31,-22.4),(29,-22),(27,-20)]],
    'Botswana': [[(20,-18),(23.3,-17.5),(25.2,-17.8),(27,-20),(29,-22),(26.5,-24.7),(23,-25.3),(20,-24.7),(20,-22)]],
    'Namibia': [[(11.8,-17),(13.9,-17.4),(18.5,-17.4),(23.3,-17.5),(20,-18),(20,-22),(20,-28.5),(17,-28.7),(15,-26),(14,-22)]],
    'South Africa': [[(17,-28.7),(20,-28.5),(20,-24.7),(23,-25.3),(26.5,-24.7),(29,-22),(31,-22.4),(32,-24.5),(32.8,-26),(32.5,-28.5),(30,-31.5),(26,-34),(20,-34.8),(18.3,-34),(18,-32)]],
    'Lesotho': [[(27,-29.6),(28.8,-28.7),(29.4,-29.7),(28,-30.6)]],
    'Eswatini': [[(31,-26),(32,-26),(32,-27.2),(31,-27.2)]],
    'Madagascar': [[(49.3,-12),(50.5,-15.5),(47,-25),(45,-25.5),(43.5,-22),(44.5,-16.2)]],
    'Cape Verde': [[(-25,17),(-24,16.6),(-24.5,16.2)], [(-23.7,15.2),(-23.2,15.2),(-23.5,14.9)]],
    'Mauritius': [[(57.3,-20),(57.8,-20.1),(57.5,-20.5)]],
}

# map position on the page
MAP_CX, MAP_CY, MAP_R = 364.0, 338.4, 155.7


def project(ring):
    '''Robinson x,y of a lon/lat ring, long edges split so parallels bend'''
    lons, lats = [], []
    closed = ring + ring[:1]
    for (a, b), (c, d) in zip(closed[:-1], closed[1:]):
        steps = max(1, int(max(abs(c - a), abs(d - b)) // 4))
        lons.extend(np.linspace(a, c, steps, endpoint=False))
        lats.extend(np.linspace(b, d, steps, endpoint=False))
    lons, lats = np.array(lons), np.array(lats)
    plen = np.interp(np.abs(lats), rob_lat, rob_plen)
    pdfe = np.interp(np.abs(lats), rob_lat, rob_pdfe)
    return np.column_stack((0.8487 * plen * np.radians(lons), 1.3523 * pdfe * np.sign(lats)))


def main():
    plt.rcParams['font.family'] = ['Lato', 'DejaVu Sans']
    plt.rcParams['hatch.linewidth'] = 0.7

    fig = plt.figure(figsize=(8.5, 6), dpi=100)
    cmap = ListedColormap(bin_colors)
    norm = BoundaryNorm(bin_edges, cmap.N)

    ''' Map, in Robinson units '''
    ax = fig.add_axes([0, 0, 1, 1])
    ax.set_xlim((0 - MAP_CX) / MAP_R, (850 - MAP_CX) / MAP_R)
    ax.set_ylim((MAP_CY - 600) / MAP_R, MAP_CY / MAP_R)
    ax.axis('off')
    for name, rings in outlines.items():
        score = scores[name]
        for ring in rings:
            xy = project(ring)
            if score is None:
                ax.add_patch(Polygon(xy, closed=True, facecolor='white', edgecolor='#e2e2e2', hatch='//////', lw=0))
                ax.add_patch(Polygon(xy, closed=True, fill=False, edgecolor='#d2d2d2', lw=0.4))
            else:
                ax.add_patch(Polygon(xy, closed=True, facecolor=cmap(norm(score)), edgecolor=(0.3, 0.27, 0.24, 0.42),
                                     lw=0.45, joinstyle='round'))

    ''' Page furniture, in pixels '''
    page = fig.add_axes([0, 0, 1, 1], facecolor='none')
    page.set_xlim(0, 850)
    page.set_ylim(600, 0)
    page.axis('off')

    page.text(16, 39, 'Level of national compliance with labor rights', family='Liberation Serif', weight='bold',
              fontsize=18.05, color='#3a3a3a', va='baseline')
    page.text(516, 39, '2024', fontsize=13.2, color='#6e7581', va='baseline')
    subtitle = ['The indicator has a range from 0 to 10, with 0 being the best possible score (indicating higher levels of',
                'compliance with fundamental rights at work) and 10 the worst (indicating lower levels of compliance with',
                'fundamental rights at work).']
    for i, line in enumerate(subtitle):
        page.text(16, 66 + i * 18, line, fontsize=10.75, color='#5b5b5b', va='baseline')

    # logo
    page.add_patch(Rectangle((771, 16), 62, 36, facecolor='#002147', lw=0))
    page.add_patch(Rectangle((771, 49), 62, 3, facecolor='#ce261e', lw=0))
    page.text(802, 27, 'Our World', fontsize=8.1, weight='bold', color='white', ha='center', va='center')
    page.text(802, 39, 'in Data', fontsize=8.1, weight='bold', color='white', ha='center', va='center')

    # legend
    page.text(122, 526, 'No data', fontsize=9.7, color='#5b5b5b', ha='center', va='center')
    page.add_patch(Rectangle((98, 537), 48, 12, facecolor='white', edgecolor='#dcdcdc', hatch='//////', lw=0))
    page.add_patch(Rectangle((98, 537), 48, 12, fill=False, edgecolor='#c4c4c4', lw=0.6))
    bar_x0, bar_step = 165.5, 58.55
    for i, colour in enumerate(bin_colors):
        page.add_patch(Rectangle((bar_x0 + i * bar_step, 537), bar_step, 12, facecolor=colour, edgecolor='#a8a8a8', lw=0.5))
    for i, edge in enumerate(bin_edges):
        page.plot([bar_x0 + i * bar_step] * 2, [533.5, 537], color='#a8a8a8', lw=0.6)
        page.text(bar_x0 + i * bar_step, 526, str(edge), fontsize=9.7, color='#5b5b5b', ha='center', va='center')

    # footer
    page.text(16, 581, 'Data source:', fontsize=9.2, weight='bold', color='#5b5b5b', va='baseline')
    page.text(91, 581, 'International Labour Organization', fontsize=9.4, color='#5b5b5b', va='baseline')
    page.text(832, 581, 'OurWorldinData.org/trade-and-globalization | CC BY', fontsize=9.4, color='#5b5b5b', ha='right', va='baseline')

    plt.savefig('out.png', dpi=100)


if __name__ == "__main__":
    main()
